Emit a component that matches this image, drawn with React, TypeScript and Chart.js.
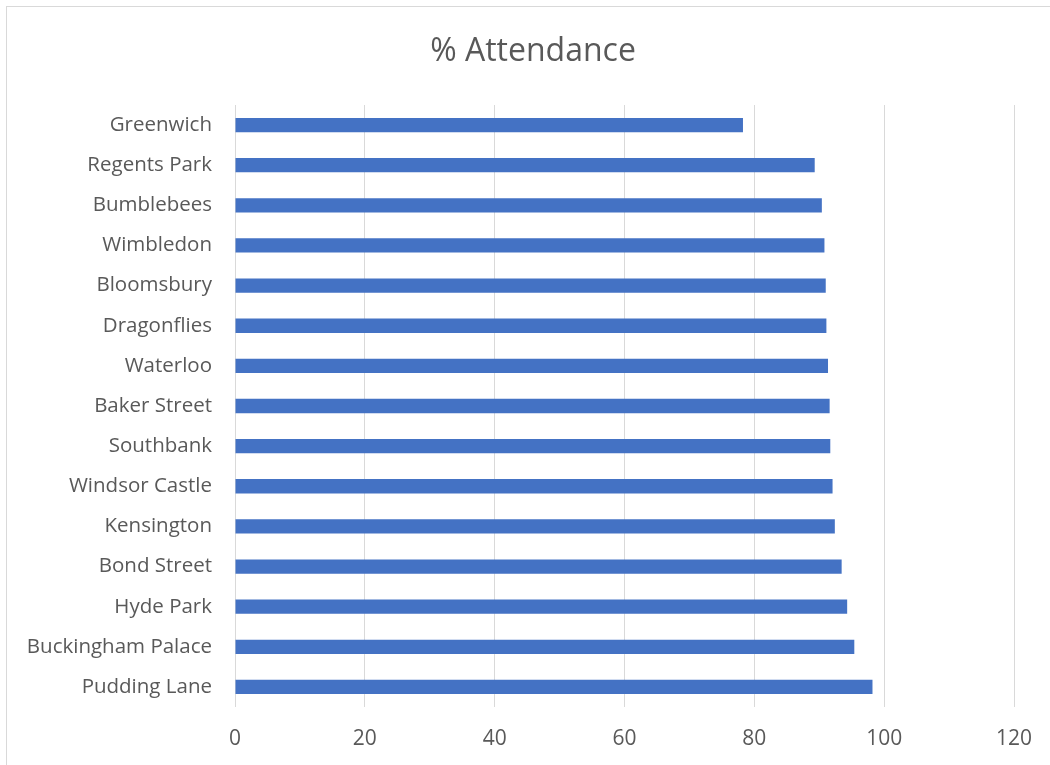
import React, { useEffect, useRef } from "react";
import { Chart, registerables } from "chart.js";

Chart.register(...registerables);

const categories = [
  "Greenwich",
  "Regents Park",
  "Bumblebees",
  "Wimbledon",
  "Bloomsbury",
  "Dragonflies",
  "Waterloo",
  "Baker Street",
  "Southbank",
  "Windsor Castle",
  "Kensington",
  "Bond Street",
  "Hyde Park",
  "Buckingham Palace",
  "Pudding Lane",
];

const attendance = [
  78.25, 89.3, 90.4, 90.8, 91.0, 91.1, 91.35, 91.6, 91.7, 92.05, 92.4, 93.45,
  94.3, 95.4, 98.2,
];

const titleText = "% Attendance";
const xMin = 0;
const xMax = 120;
const xStep = 20;

const FONT = "'Open Sans', 'Noto Sans', sans-serif";
const TEXT = "#595959";
const GRID = "#d9d9d9";
const BAR = "#4472C4";

const CANVAS_W = 1066;
const CANVAS_H = 765;

export default function App() {
  const ref = useRef<HTMLCanvasElement | null>(null);

  useEffect(() => {
    if (!ref.current) return;
    const chart = new Chart(ref.current, {
      type: "bar",
      data: {
        labels: categories,
        datasets: [
          {
            label: titleText,
            data: attendance,
            backgroundColor: BAR,
            borderWidth: 0,
            barPercentage: 0.356,
            categoryPercentage: 1,
          },
        ],
      },
      options: {
        indexAxis: "y",
        animation: false,
        responsive: false,
        maintainAspectRatio: false,
        devicePixelRatio: 1,
        layout: { padding: { top: 0, left: 0, right: 0, bottom: 0 } },
        plugins: {
          legend: { display: false },
          tooltip: { enabled: false },
          title: {
            display: true,
            text: titleText,
            color: TEXT,
            font: { family: FONT, size: 32, weight: "normal" },
            padding: { top: 32.8, bottom: 33.8 },
          },
        },
        scales: {
          x: {
            type: "linear",
            min: xMin,
            max: xMax,
            ticks: {
              stepSize: xStep,
              color: TEXT,
              font: { family: FONT, size: 21 },
              padding: 19,
            },
            grid: { color: GRID, lineWidth: 1, drawTicks: false },
            border: { display: false },
            afterFit: (scale: any) => {
              scale.height = 58;
            },
          },
          y: {
            type: "category",
            ticks: {
              color: TEXT,
              font: { family: FONT, size: 20.5 },
              padding: 23,
              autoSkip: false,
            },
            grid: { display: false, drawTicks: false },
            border: { display: false },
            afterFit: (scale: any) => {
              scale.width = 235;
            },
          },
          yRight: {
            type: "linear",
            position: "right",
            display: true,
            ticks: { display: false },
            grid: { display: false, drawTicks: false },
            border: { display: false },
            afterFit: (scale: any) => {
              scale.width = CANVAS_W - 1014;
            },
          },
        },
      },
    });
    return () => chart.destroy();
  }, []);

  return (
    <div>
      <div
        style={{
          position: "fixed",
          left: 6,
          top: 6,
          width: 1200,
          height: 900,
          borderTop: "1.5px solid #d9d9d9",
          borderLeft: "1.5px solid #d9d9d9",
          background: "#ffffff",
        }}
      />
      <canvas
        ref={ref}
        width={CANVAS_W}
        height={CANVAS_H}
        style={{
          position: "fixed",
          left: 0,
          top: 0,
          width: CANVAS_W,
          height: CANVAS_H,
        }}
      />
    </div>
  );
}
